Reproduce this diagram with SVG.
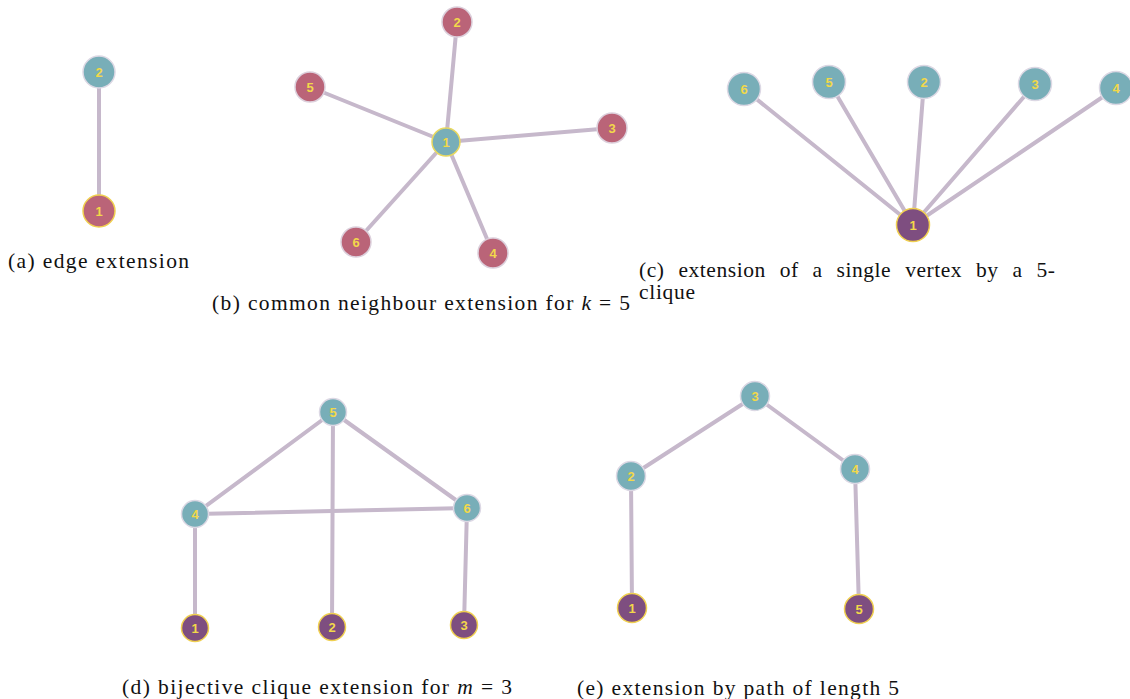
<svg xmlns="http://www.w3.org/2000/svg" width="1130" height="699" viewBox="0 0 1130 699">
<style>
.e{stroke:#c6b8cb;stroke-width:4;stroke-linecap:round;fill:none}
.t{fill:#78aeb8;stroke:#dcd8e4;stroke-width:1.5}
.p{fill:#ba6478;stroke:#dcd0dc;stroke-width:1.5}
.py{fill:#ba6478;stroke:#f0d050;stroke-width:1.5}
.ty{fill:#78aeb8;stroke:#e8d860;stroke-width:1.5}
.v{fill:#7e4e80;stroke:#f0d050;stroke-width:1.5}
.l{fill:#f2d84a;font-family:"Liberation Sans",Arial,sans-serif;font-weight:bold;font-size:13px;text-anchor:middle}
.c{fill:#111;font-family:"Liberation Serif","Times New Roman",serif;font-size:21.5px}
</style>
<g id="connectors">
<line class="e" x1="99" y1="72" x2="99" y2="211"/>
<line class="e" x1="446" y1="142" x2="457" y2="22"/>
<line class="e" x1="446" y1="142" x2="310" y2="87"/>
<line class="e" x1="446" y1="142" x2="612" y2="128"/>
<line class="e" x1="446" y1="142" x2="356" y2="242"/>
<line class="e" x1="446" y1="142" x2="493" y2="253"/>
<line class="e" x1="913" y1="225" x2="744" y2="89"/>
<line class="e" x1="913" y1="225" x2="829" y2="82"/>
<line class="e" x1="913" y1="225" x2="924" y2="82"/>
<line class="e" x1="913" y1="225" x2="1035" y2="84"/>
<line class="e" x1="913" y1="225" x2="1116" y2="88"/>
<line class="e" x1="333" y1="412" x2="195" y2="514"/>
<line class="e" x1="333" y1="412" x2="467" y2="508"/>
<line class="e" x1="333" y1="412" x2="332" y2="627"/>
<line class="e" x1="195" y1="514" x2="467" y2="508"/>
<line class="e" x1="195" y1="514" x2="195" y2="628"/>
<line class="e" x1="467" y1="508" x2="464" y2="625"/>
<line class="e" x1="755" y1="396" x2="631" y2="476"/>
<line class="e" x1="755" y1="396" x2="855" y2="469"/>
<line class="e" x1="631" y1="476" x2="632" y2="608"/>
<line class="e" x1="855" y1="469" x2="859" y2="609"/>
</g>
<g id="a-n2"><circle class="t" cx="99" cy="72" r="16"/><text class="l" x="99" y="76.5">2</text></g>
<g id="a-n1"><circle class="py" cx="99" cy="211" r="16"/><text class="l" x="99" y="215.5">1</text></g>
<g id="b-n1"><circle class="ty" cx="446" cy="142" r="14"/><text class="l" x="446" y="146.5">1</text></g>
<g id="b-n2"><circle class="p" cx="457" cy="22" r="15"/><text class="l" x="457" y="26.5">2</text></g>
<g id="b-n5"><circle class="p" cx="310" cy="87" r="15"/><text class="l" x="310" y="91.5">5</text></g>
<g id="b-n3"><circle class="p" cx="612" cy="128" r="15"/><text class="l" x="612" y="132.5">3</text></g>
<g id="b-n6"><circle class="p" cx="356" cy="242" r="15"/><text class="l" x="356" y="246.5">6</text></g>
<g id="b-n4"><circle class="p" cx="493" cy="253" r="15"/><text class="l" x="493" y="257.5">4</text></g>
<g id="c-n6"><circle class="t" cx="744" cy="89" r="16.5"/><text class="l" x="744" y="93.5">6</text></g>
<g id="c-n5"><circle class="t" cx="829" cy="82" r="16.5"/><text class="l" x="829" y="86.5">5</text></g>
<g id="c-n2"><circle class="t" cx="924" cy="82" r="16.5"/><text class="l" x="924" y="86.5">2</text></g>
<g id="c-n3"><circle class="t" cx="1035" cy="84" r="16.5"/><text class="l" x="1035" y="88.5">3</text></g>
<g id="c-n4"><circle class="t" cx="1116" cy="88" r="16.5"/><text class="l" x="1116" y="92.5">4</text></g>
<g id="c-n1"><circle class="v" cx="913" cy="225" r="16.5"/><text class="l" x="913" y="229.5">1</text></g>
<g id="d-n5"><circle class="t" cx="333" cy="412" r="13.5"/><text class="l" x="333" y="416.5">5</text></g>
<g id="d-n4"><circle class="t" cx="195" cy="514" r="13.5"/><text class="l" x="195" y="518.5">4</text></g>
<g id="d-n6"><circle class="t" cx="467" cy="508" r="13.5"/><text class="l" x="467" y="512.5">6</text></g>
<g id="d-n1"><circle class="v" cx="195" cy="628" r="13.5"/><text class="l" x="195" y="632.5">1</text></g>
<g id="d-n2"><circle class="v" cx="332" cy="627" r="13.5"/><text class="l" x="332" y="631.5">2</text></g>
<g id="d-n3"><circle class="v" cx="464" cy="625" r="13.5"/><text class="l" x="464" y="629.5">3</text></g>
<g id="e-n3"><circle class="t" cx="755" cy="396" r="14.5"/><text class="l" x="755" y="400.5">3</text></g>
<g id="e-n2"><circle class="t" cx="631" cy="476" r="14.5"/><text class="l" x="631" y="480.5">2</text></g>
<g id="e-n4"><circle class="t" cx="855" cy="469" r="14.5"/><text class="l" x="855" y="473.5">4</text></g>
<g id="e-n1"><circle class="v" cx="632" cy="608" r="14.5"/><text class="l" x="632" y="612.5">1</text></g>
<g id="e-n5"><circle class="v" cx="859" cy="609" r="14.5"/><text class="l" x="859" y="613.5">5</text></g>
<g id="captions">
<text class="c" x="8" y="268" textLength="181" lengthAdjust="spacing">(a) edge extension</text>
<text class="c" x="212" y="310" textLength="418" lengthAdjust="spacing">(b) common neighbour extension for <tspan font-style="italic">k</tspan> = 5</text>
<text class="c" x="639" y="277" word-spacing="8" textLength="416" lengthAdjust="spacing">(c) extension of a single vertex by a 5-</text>
<text class="c" x="639" y="299" textLength="56" lengthAdjust="spacing">clique</text>
<text class="c" x="122" y="694" textLength="390" lengthAdjust="spacing">(d) bijective clique extension for <tspan font-style="italic">m</tspan> = 3</text>
<text class="c" x="577" y="695" textLength="322" lengthAdjust="spacing">(e) extension by path of length 5</text>
</g>
</svg>
